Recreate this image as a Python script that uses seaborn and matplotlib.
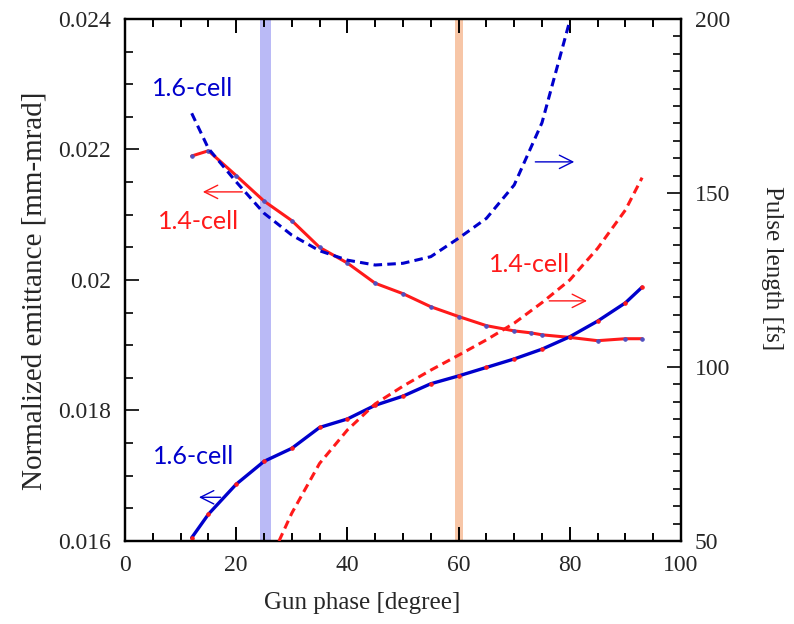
import numpy as np
import pandas as pd
import matplotlib
matplotlib.use("Agg")
import matplotlib.pyplot as plt
from matplotlib.ticker import MultipleLocator
import seaborn as sns

# ---- data ----
phase_14_emit = [12, 15, 20, 25, 30, 35, 40, 45, 50, 55, 60, 65, 70, 73, 75, 80, 85, 90, 93]
emit_14 = [0.02190, 0.02198, 0.02160, 0.02121, 0.02091, 0.02050, 0.02026, 0.01995, 0.01979,
           0.01959, 0.01944, 0.01930, 0.01922, 0.01919, 0.01916, 0.01912, 0.01907, 0.01910, 0.01910]

phase_16_emit = [12, 15, 20, 25, 30, 35, 40, 45, 50, 55, 60, 65, 70, 75, 80, 85, 90, 93]
emit_16 = [0.01605, 0.01641, 0.01687, 0.01722, 0.01742, 0.01774, 0.01787, 0.01808, 0.01822,
           0.01841, 0.01853, 0.01866, 0.01879, 0.01894, 0.01913, 0.01937, 0.01965, 0.01989]

phase_16_pulse = [12, 15, 20, 25, 30, 35, 40, 45, 50, 55, 60, 65, 70, 75, 80]
pulse_16 = [172.9, 162.8, 153.2, 144.2, 137.9, 133.4, 130.7, 129.3, 129.8,
            131.7, 137.0, 142.7, 152.3, 170.2, 199.5]

phase_14_pulse = [27.7, 30, 35, 40, 45, 50, 55, 60, 65, 70, 75, 80, 85, 90, 93]
pulse_14 = [50.0, 58.0, 72.3, 81.9, 89.4, 94.5, 99.1, 103.4, 107.8, 112.6, 118.5, 125.0,
            134.1, 145.1, 154.4]

band_blue = (24.3, 26.3)
band_orange = (59.3, 60.8)

x_ticks = [0, 20, 40, 60, 80, 100]
y_ticks = [0.016, 0.018, 0.02, 0.022, 0.024]
y_ticklabels = ["0.016", "0.018", "0.02", "0.022", "0.024"]
y2_ticks = [50, 100, 150, 200]

# ---- style ----
sns.set_style("ticks")
plt.rcParams["font.family"] = ["Liberation Serif", "DejaVu Serif"]

BLUE = "#0000cc"
RED = "#ff1a1a"

fig = plt.figure(figsize=(7.94, 6.24), dpi=100)
ax = fig.add_axes([0.1574, 0.133, 0.7003, 0.8366])
ax2 = ax.twinx()

ax.axvspan(*band_blue, color="#8c8cf0", alpha=0.6, lw=0, zorder=0)
ax.axvspan(*band_orange, color="#f4a878", alpha=0.65, lw=0, zorder=0)

df14 = pd.DataFrame({"phase": phase_14_emit, "emit": emit_14})
df16 = pd.DataFrame({"phase": phase_16_emit, "emit": emit_16})
dp16 = pd.DataFrame({"phase": phase_16_pulse, "pulse": pulse_16})
dp14 = pd.DataFrame({"phase": phase_14_pulse, "pulse": pulse_14})

sns.lineplot(data=df14, x="phase", y="emit", ax=ax, color=RED, lw=2.2, marker="o",
             markersize=2.5, markerfacecolor="#5050c0", markeredgecolor="#5050c0",
             zorder=3, legend=False)
sns.lineplot(data=df16, x="phase", y="emit", ax=ax, color=BLUE, lw=2.4, marker="o",
             markersize=2.5, markerfacecolor=RED, markeredgecolor=RED,
             zorder=3, legend=False)
sns.lineplot(data=dp16, x="phase", y="pulse", ax=ax2, color=BLUE, lw=2.2,
             dashes=False, zorder=3, legend=False)
sns.lineplot(data=dp14, x="phase", y="pulse", ax=ax2, color=RED, lw=2.2,
             dashes=False, zorder=3, legend=False)
for ln in ax2.get_lines():
    ln.set_linestyle((0, (2.8, 1.7)))

ax.set_xlim(0, 100)
ax.set_ylim(0.016, 0.024)
ax2.set_ylim(50, 200)
ax.set_xticks(x_ticks)
ax.set_yticks(y_ticks)
ax.set_yticklabels(y_ticklabels)
ax2.set_yticks(y2_ticks)
ax.xaxis.set_minor_locator(MultipleLocator(5))
ax.yaxis.set_minor_locator(MultipleLocator(0.0005))
ax2.yaxis.set_minor_locator(MultipleLocator(5))

for a in (ax, ax2):
    for s in a.spines.values():
        s.set_linewidth(1.6)
        s.set_visible(True)
        s.set_color("black")

ax.tick_params(axis="x", which="both", direction="in", top=True, bottom=True,
               labelsize=17, pad=10, width=1.4, color="black")
ax.tick_params(axis="x", which="major", length=10)
ax.tick_params(axis="x", which="minor", length=6)
ax.tick_params(axis="y", which="both", direction="in", left=True, right=False,
               labelsize=17, pad=10, width=1.4)
ax.tick_params(axis="y", which="major", length=10)
ax.tick_params(axis="y", which="minor", length=6)
ax2.tick_params(axis="y", which="both", direction="in", right=True, left=False,
                labelsize=17, pad=10, width=1.4)
ax2.tick_params(axis="y", which="major", length=10)
ax2.tick_params(axis="y", which="minor", length=6)

ax.set_xlabel("Gun phase [degree]", fontsize=18, va="top")
ax.xaxis.set_label_coords(0.426, -0.098)
ax.set_ylabel("Normalized emittance [mm-mrad]", fontsize=21, va="center", ha="center")
ax.yaxis.set_label_coords(-0.162, 0.479)
ax2.set_ylabel("Pulse length [fs]", fontsize=18, rotation=270, va="center", ha="center")
ax2.yaxis.set_label_coords(1.164, 0.523)

# annotations
tfont = dict(family=["Lato", "DejaVu Sans"], fontsize=18, va="center")
ax.text(4.86, 0.02294, "1.6-cell", color=BLUE, **tfont)
ax.text(5.9, 0.02089, "1.4-cell", color=RED, **tfont)
ax.text(65.5, 0.02023, "1.4-cell", color=RED, **tfont)
ax.text(5.0, 0.01729, "1.6-cell", color=BLUE, **tfont)

arr = dict(arrowstyle="->", lw=1.0, mutation_scale=24)
ax.annotate("", xy=(13.5, 0.02135), xytext=(21.6, 0.02135),
            arrowprops=dict(color=RED, **arr))
ax.annotate("", xy=(81.3, 0.02181), xytext=(73.3, 0.02181),
            arrowprops=dict(color=BLUE, **arr))
ax.annotate("", xy=(83.6, 0.01968), xytext=(75.8, 0.01968),
            arrowprops=dict(color=RED, **arr))
ax.annotate("", xy=(12.8, 0.01667), xytext=(17.7, 0.01667),
            arrowprops=dict(color=BLUE, **arr))

fig.savefig("out.png", dpi=100)
